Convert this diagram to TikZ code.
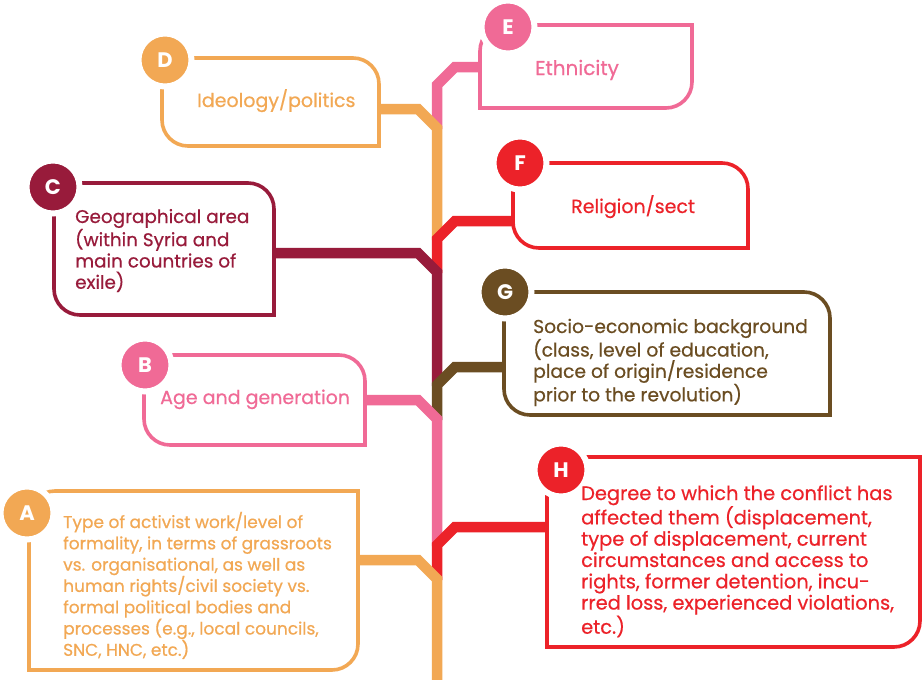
\documentclass[tikz,border=0pt]{standalone}
\usepackage{fontspec}
\setmainfont{Poppins}
\newfontfamily\medfont{Poppins}[FakeBold=0.55]
\definecolor{cOr}{HTML}{F2A854}
\definecolor{cPk}{HTML}{F06A96}
\definecolor{cRd}{HTML}{EC2229}
\definecolor{cMr}{HTML}{981B3B}
\definecolor{cBr}{HTML}{6B4D22}
\newcommand\rr{26}
% box with top-right and bottom-left rounded: colour, L, T, R, B
\newcommand\boxTRBL[5]{\draw[boxline,#1] (#2,-#3) -- ({#4-\rr},-#3) arc[start angle=90,end angle=0,radius=\rr] -- (#4,-#5) -- ({#2+\rr},-#5) arc[start angle=270,end angle=180,radius=\rr] -- cycle;}
% box with top-left and bottom-right rounded
\newcommand\boxTLBR[5]{\draw[boxline,#1] ({#2+\rr},-#3) -- (#4,-#3) -- (#4,{-#5+\rr}) arc[start angle=0,end angle=-90,radius=\rr] -- (#2,-#5) -- (#2,{-#3-\rr}) arc[start angle=180,end angle=90,radius=\rr] -- cycle;}
\newcommand\txt[2]{\parbox[t]{420pt}{\medfont\fontsize{#1}{21.3}\selectfont\raggedright #2}}
\tikzset{
  boxline/.style={line width=3.6pt},
  trunk/.style={line width=10.5pt, line join=miter},
  circ/.style={circle, fill=#1, draw=white, line width=6pt, minimum size=53pt, inner sep=0pt,
     text=white, font=\bfseries\fontsize{21}{21}\selectfont},
  lbl/.style={anchor=base west, inner sep=0pt, text=#1},
}
\begin{document}
\begin{tikzpicture}[x=1pt,y=1pt]
\useasboundingbox (0,0) rectangle (922,-680);
\fill[white] (0,0) rectangle (922,-680);

% boxes
\boxTRBL{cOr}{162}{58}{379}{146}
\boxTLBR{cPk}{480}{25}{692}{108}
\boxTRBL{cRd}{513}{163}{748}{248}
\boxTRBL{cMr}{54}{183}{274}{315}
\boxTRBL{cBr}{504}{292}{830}{415}
\boxTRBL{cPk}{144}{355}{365}{445}
\boxTLBR{cOr}{29}{491}{358}{670}
\boxTLBR{cRd}{547}{457}{920}{647}

% attach points and junctions
\coordinate (aE) at (480,-67);  \coordinate (kE) at (455,-67);  \coordinate (jE) at (437,-85);  \coordinate (eE) at (437,-129);
\coordinate (aD) at (379,-109); \coordinate (kD) at (418,-109); \coordinate (jD) at (437,-128); \coordinate (eD) at (437,-240);
\coordinate (aF) at (513,-221); \coordinate (kF) at (455,-221); \coordinate (jF) at (437,-239); \coordinate (eF) at (437,-273);
\coordinate (aC) at (274,-253); \coordinate (kC) at (418,-253); \coordinate (jC) at (437,-272); \coordinate (eC) at (437,-386);
\coordinate (aG) at (504,-367); \coordinate (kG) at (455,-367); \coordinate (jG) at (437,-385); \coordinate (eG) at (437,-420);
\coordinate (aB) at (365,-400); \coordinate (kB) at (418,-400); \coordinate (jB) at (437,-419); \coordinate (eB) at (437,-546);
\coordinate (aH) at (547,-527); \coordinate (kH) at (455,-527); \coordinate (jH) at (437,-545); \coordinate (eH) at (437,-580);
\coordinate (aA) at (358,-560); \coordinate (kA) at (418,-560); \coordinate (jA) at (437,-579); \coordinate (eA) at (437,-680);

\draw[trunk,cPk] (aE) -- (kE) -- (jE) -- (eE);
\draw[trunk,cOr] (aD) -- (kD) -- (jD) -- (eD);
\draw[trunk,cRd] (aF) -- (kF) -- (jF) -- (eF);
\draw[trunk,cMr] (aC) -- (kC) -- (jC) -- (eC);
\draw[trunk,cBr] (aG) -- (kG) -- (jG) -- (eG);
\draw[trunk,cPk] (aB) -- (kB) -- (jB) -- (eB);
\draw[trunk,cRd] (aH) -- (kH) -- (jH) -- (eH);
\draw[trunk,cOr] (aA) -- (kA) -- (jA) -- (eA);

% letter circles
\node[circ=cOr] (cD) at (165,-60) {D};
\node[circ=cPk] (cE) at (508,-27) {E};
\node[circ=cRd] (cF) at (520,-163) {F};
\node[circ=cMr] (cC) at (53,-187) {C};
\node[circ=cBr] (cG) at (505,-292) {G};
\node[circ=cPk] (cB) at (145,-365) {B};
\node[circ=cOr] (cA) at (27,-513) {A};
\node[circ=cRd] (cH) at (561,-470) {H};

% texts
\node[lbl=cOr] (tD) at (197,-107) {\txt{19}{Ideology/politics}};
\node[lbl=cPk] (tE) at (535,-75) {\txt{20}{Ethnicity}};
\node[lbl=cRd] (tF) at (571,-213) {\txt{19}{Religion/sect}};
\node[lbl=cMr] (tC) at (75,-223) {\txt{18.4}{Geographical area\\(within Syria and\\main countries of\\exile)}};
\node[lbl=cBr] (tG) at (533,-333) {\txt{18.7}{Socio-economic background\\(class, level of education,\\place of origin/residence\\prior to the revolution)}};
\node[lbl=cPk] (tB) at (160,-404) {\txt{19}{Age and generation}};
\node[lbl=cOr] (tA) at (63,-528) {\txt{17}{Type of activist work/level of\\formality, in terms of grassroots\\vs. organisational, as well as\\human rights/civil society vs.\\formal political bodies and\\processes (e.g., local councils,\\SNC, HNC, etc.)}};
\node[lbl=cRd] (tH) at (581,-500) {\txt{19.4}{Degree to which the conflict has\\affected them (displacement,\\type of displacement, current\\circumstances and access to\\rights, former detention, incu-\\rred loss, experienced violations,\\etc.)}};
\end{tikzpicture}
\end{document}
